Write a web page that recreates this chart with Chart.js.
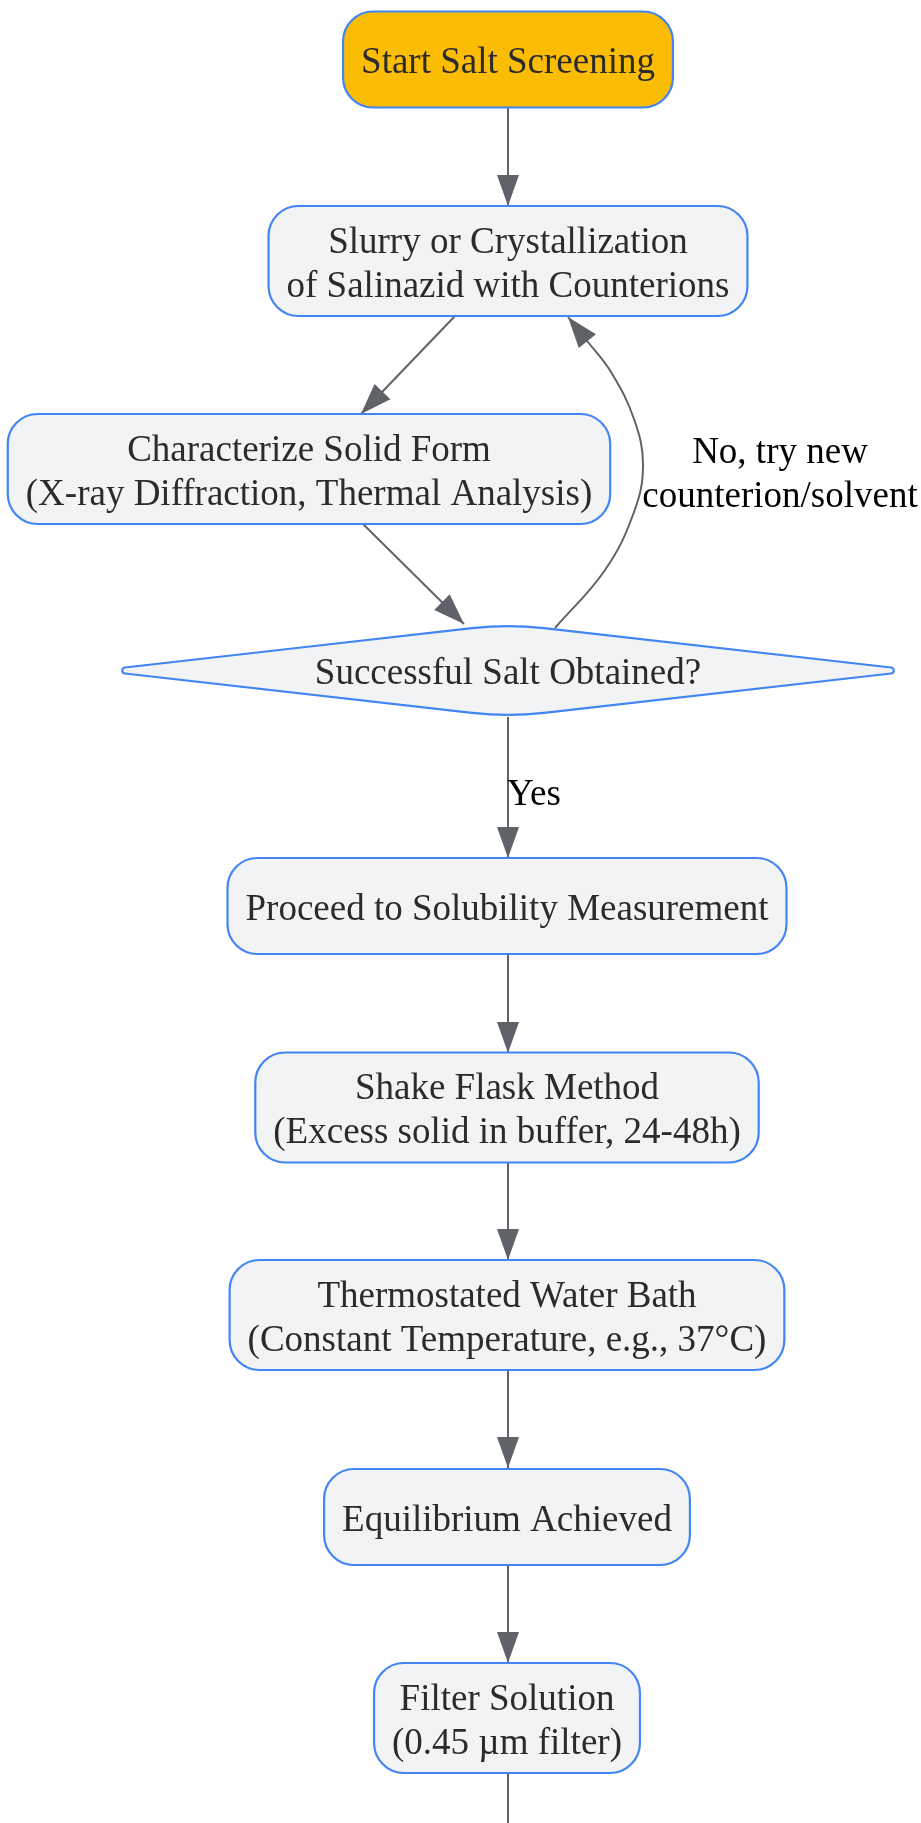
<!DOCTYPE html>
<html>
<head>
<meta charset="utf-8">
<title>Salt Screening Flow</title>
<script src="https://cdn.jsdelivr.net/npm/chart.js@4.4.1/dist/chart.umd.min.js"></script>
<style>
  html, body { margin: 0; padding: 0; background: #fff; }
  #wrap { width: 921px; height: 1823px; }
</style>
</head>
<body>
<div id="wrap"><canvas id="flow" width="921" height="1823"></canvas></div>
<script>
'use strict';

/* ── DATA ──────────────────────────────────────────────────── */
const nodeLabels = [
  ['Start Salt Screening'],
  ['Slurry or Crystallization', 'of Salinazid with Counterions'],
  ['Characterize Solid Form', '(X-ray Diffraction, Thermal Analysis)'],
  ['Successful Salt Obtained?'],
  ['Proceed to Solubility Measurement'],
  ['Shake Flask Method', '(Excess solid in buffer, 24-48h)'],
  ['Thermostated Water Bath', '(Constant Temperature, e.g., 37°C)'],
  ['Equilibrium Achieved'],
  ['Filter Solution', '(0.45 µm filter)'],
];
const nodeKind = ['start', 'step', 'step', 'decision', 'step', 'step', 'step', 'step', 'step'];
// node centres in layout units
const nodeX = [508, 508, 309, 508, 507, 507, 507, 507, 507];
const nodeY = [59.5, 261, 469, 670.5, 906, 1107.5, 1315, 1517, 1718];

// edge routes (last point = arrow tip)
const edgeRoutes = [
  [[508, 108], [508, 206]],
  [[455, 316], [361, 414]],
  [[363, 524], [464, 624]],
  [[555, 628], [605, 570], [634, 512], [643, 465], [634, 419], [611, 372], [588, 342], [568, 317]],
  [[508, 717], [508, 858]],
  [[508, 954], [508, 1053]],
  [[508, 1162], [508, 1260]],
  [[508, 1370], [508, 1468]],
  [[508, 1566], [508, 1663]],
  [[508, 1773], [508, 1880]],
];
const edgeLabelText = [['Yes'], ['No, try new', 'counterion/solvent']];
const edgeLabelX = [534, 780];
const edgeLabelY = [791, 471];

/* ── STYLE ─────────────────────────────────────────────────── */
const FONT = '37px "Liberation Serif", "Times New Roman", serif';
const LINE_H = 44;
const TEXT_DY = 4;
const PAD_X = 18;
const RADIUS = 30;
const EDGE_COLOR = '#5f6368';
const BORDER = '#4285f4';

function roundRect(ctx, x, y, w, h, r) {
  ctx.beginPath();
  ctx.moveTo(x + r, y);
  ctx.arcTo(x + w, y, x + w, y + h, r);
  ctx.arcTo(x + w, y + h, x, y + h, r);
  ctx.arcTo(x, y + h, x, y, r);
  ctx.arcTo(x, y, x + w, y, r);
  ctx.closePath();
}

function diamond(ctx, cx, cy, w, h) {
  const l = cx - w / 2, r = cx + w / 2, t = cy - h / 2, b = cy + h / 2;
  ctx.beginPath();
  ctx.moveTo((l + cx) / 2, (t + cy) / 2);
  ctx.arcTo(cx, t, r, cy, 320);
  ctx.arcTo(r, cy, cx, b, 3);
  ctx.arcTo(cx, b, l, cy, 320);
  ctx.arcTo(l, cy, cx, t, 3);
  ctx.closePath();
}

const flowPlugin = {
  id: 'flow',
  afterDatasetsDraw(chart) {
    const { ctx, scales: { x, y } } = chart;
    ctx.save();

    // arrow heads
    ctx.fillStyle = EDGE_COLOR;
    edgeRoutes.forEach(route => {
      const [tx, ty] = route[route.length - 1];
      const [px, py] = route[route.length - 2];
      const ax = x.getPixelForValue(tx), ay = y.getPixelForValue(ty);
      let dx = ax - x.getPixelForValue(px), dy = ay - y.getPixelForValue(py);
      const len = Math.hypot(dx, dy) || 1;
      dx /= len; dy /= len;
      const L = 31, W = 11;
      ctx.beginPath();
      ctx.moveTo(ax, ay);
      ctx.lineTo(ax - dx * L - dy * W, ay - dy * L + dx * W);
      ctx.lineTo(ax - dx * L + dy * W, ay - dy * L - dx * W);
      ctx.closePath();
      ctx.fill();
    });

    // nodes
    ctx.font = FONT;
    ctx.textAlign = 'center';
    ctx.textBaseline = 'middle';
    nodeLabels.forEach((lines, i) => {
      const cx = x.getPixelForValue(nodeX[i]);
      const cy = y.getPixelForValue(nodeY[i]);
      const tw = Math.max(...lines.map(s => ctx.measureText(s).width));
      ctx.lineWidth = 2.2;
      ctx.strokeStyle = BORDER;
      if (nodeKind[i] === 'decision') {
        diamond(ctx, cx, cy, tw * 2 + 46, 93);
        ctx.fillStyle = '#f1f3f4';
      } else {
        const w = tw + PAD_X * 2;
        const h = lines.length > 1 ? 110 : 96;
        roundRect(ctx, cx - w / 2, cy - h / 2, w, h, RADIUS);
        ctx.fillStyle = nodeKind[i] === 'start' ? '#fbbc04' : '#f1f3f4';
      }
      ctx.fill();
      ctx.stroke();
      ctx.fillStyle = '#2b2b2b';
      lines.forEach((s, k) => {
        ctx.fillText(s, cx, cy + (k - (lines.length - 1) / 2) * LINE_H + TEXT_DY);
      });
    });

    // edge labels
    ctx.fillStyle = '#000000';
    edgeLabelText.forEach((lines, i) => {
      const cx = x.getPixelForValue(edgeLabelX[i]);
      const cy = y.getPixelForValue(edgeLabelY[i]);
      lines.forEach((s, k) => {
        ctx.fillText(s, cx, cy + (k - (lines.length - 1) / 2) * LINE_H + TEXT_DY);
      });
    });

    ctx.restore();
  }
};

/* ── CHART ─────────────────────────────────────────────────── */
const datasets = edgeRoutes.map((route, i) => ({
  label: 'edge' + i,
  data: route.map(([ex, ey]) => ({ x: ex, y: ey })),
  showLine: true,
  borderColor: EDGE_COLOR,
  borderWidth: 2,
  pointRadius: 0,
  tension: route.length > 2 ? 0.4 : 0,
}));

new Chart(document.getElementById('flow'), {
  type: 'scatter',
  data: { datasets },
  options: {
    responsive: false,
    animation: false,
    layout: { padding: 0 },
    plugins: { legend: { display: false }, tooltip: { enabled: false } },
    scales: {
      x: { type: 'linear', min: 0, max: 921, display: false },
      y: { type: 'linear', min: 0, max: 1823, reverse: true, display: false },
    },
  },
  plugins: [flowPlugin],
});
</script>
</body>
</html>
